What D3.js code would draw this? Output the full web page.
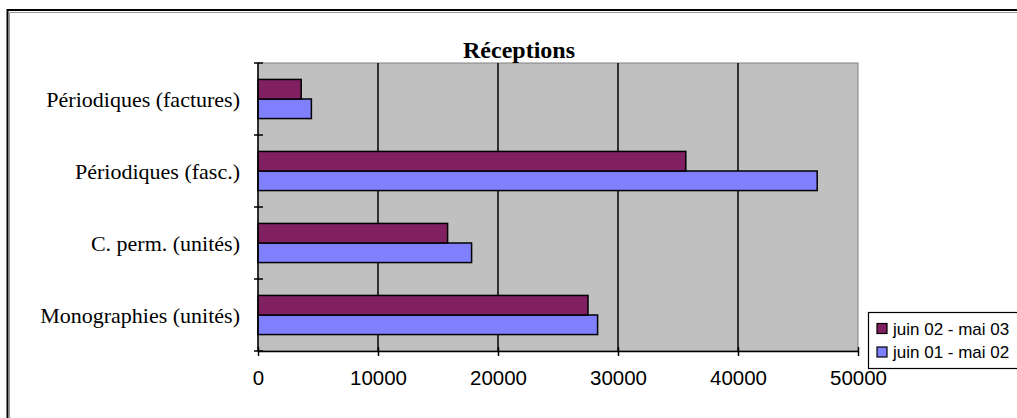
<!DOCTYPE html>
<html><head><meta charset="utf-8">
<script src="https://cdn.jsdelivr.net/npm/d3@7"></script>
<style>html,body{margin:0;padding:0;background:#fff;}svg{display:block;}</style>
</head><body>
<svg id="c" width="1017" height="418"></svg>
<script>
const categories = ["Monographies (unités)", "C. perm. (unités)", "Périodiques (fasc.)", "Périodiques (factures)"];
const seriesNames = ["juin 01 - mai 02", "juin 02 - mai 03"];
const values0102 = [28300, 17800, 46600, 4450];
const values0203 = [27500, 15800, 35650, 3600];
const xTicks = [0, 10000, 20000, 30000, 40000, 50000];
const title = "Réceptions";
const colors = {"juin 01 - mai 02": "#8080FF", "juin 02 - mai 03": "#802060"};

const svg = d3.select("#c");
const plot = {left: 258, right: 858, top: 63, bottom: 351};

// chart border
svg.append("rect").attr("x", 7.5).attr("y", 10).attr("width", 1040).attr("height", 440)
  .attr("fill", "#fff").attr("stroke", "#000").attr("stroke-width", 2);
svg.append("path").attr("d", "M9.5,1000V12.5H1100").attr("fill","none").attr("stroke","#999").attr("stroke-width",1);

const x = d3.scaleLinear().domain([0, 50000]).range([plot.left, plot.right]);
const y0 = d3.scaleBand().domain(categories).range([plot.bottom, plot.top]).padding(0);
const order = ["juin 02 - mai 03", "juin 01 - mai 02"];
const bw = y0.bandwidth();
const y1 = d3.scaleBand().domain(order).range([0, bw]).paddingInner(0).paddingOuter(0.84);

// plot bg
svg.append("rect").attr("x", plot.left).attr("y", plot.top)
  .attr("width", plot.right - plot.left).attr("height", plot.bottom - plot.top)
  .attr("fill", "#C0C0C0").attr("stroke", "#808080").attr("stroke-width", 1);

// gridlines
svg.append("g").selectAll("line").data(xTicks.filter(d => d > 0 && d < 50000)).join("line")
  .attr("x1", d => x(d)).attr("x2", d => x(d))
  .attr("y1", plot.top).attr("y2", plot.bottom)
  .attr("stroke", "#000").attr("stroke-width", 1.5);

// bars
const data = [];
categories.forEach((c, i) => {
  data.push({cat: c, s: "juin 01 - mai 02", v: values0102[i]});
  data.push({cat: c, s: "juin 02 - mai 03", v: values0203[i]});
});
svg.append("g").selectAll("rect").data(data).join("rect")
  .attr("x", x(0))
  .attr("y", d => y0(d.cat) + y1(d.s))
  .attr("width", d => x(d.v) - x(0))
  .attr("height", y1.bandwidth())
  .attr("fill", d => colors[d.s])
  .attr("stroke", "#000").attr("stroke-width", 1.5);

// x axis
const xAxis = d3.axisBottom(x).tickValues(xTicks).tickSize(5).tickSizeOuter(0).tickPadding(14).tickFormat(d3.format("d"));
const gx = svg.append("g").attr("transform", `translate(0,${plot.bottom})`).call(xAxis);
gx.select(".domain").attr("stroke", "#000").attr("stroke-width", 1.5);
gx.selectAll(".tick line").attr("stroke", "#000").attr("stroke-width", 1.5).attr("y1", -4);
gx.selectAll("text").attr("font-family", "Liberation Sans, Arial, sans-serif").attr("font-size", 20.5).attr("fill", "#000");

// y axis
const boundaries = categories.map(c => y0(c)).concat([plot.bottom]);
const gy = svg.append("g");
gy.append("line").attr("x1", plot.left).attr("x2", plot.left).attr("y1", plot.top).attr("y2", plot.bottom)
  .attr("stroke", "#000").attr("stroke-width", 1.5);
gy.selectAll("line.t").data(boundaries).join("line").attr("class", "t")
  .attr("x1", plot.left - 4).attr("x2", plot.left + 5)
  .attr("y1", d => d).attr("y2", d => d)
  .attr("stroke", "#000").attr("stroke-width", 1.5);
gy.selectAll("text").data(categories).join("text")
  .attr("x", 240).attr("y", d => y0(d) + bw / 2)
  .attr("dy", "0.35em").attr("text-anchor", "end")
  .attr("font-family", "Liberation Serif, Times New Roman, serif").attr("font-size", 22)
  .attr("fill", "#000").text(d => d);

// title
svg.append("text").attr("x", 519).attr("y", 58).attr("text-anchor", "middle")
  .attr("font-family", "Liberation Serif, Times New Roman, serif").attr("font-weight", "bold")
  .attr("font-size", 24).attr("fill", "#000").text(title);

// legend
const lg = svg.append("g");
lg.append("rect").attr("x", 868.5).attr("y", 312.5).attr("width", 200).attr("height", 56)
  .attr("fill", "#fff").attr("stroke", "#000").attr("stroke-width", 1.2);
const ly = d3.scalePoint().domain(order).range([328.5, 352]);
order.forEach(s => {
  lg.append("rect").attr("x", 877).attr("y", ly(s) - 5).attr("width", 10).attr("height", 10)
    .attr("fill", colors[s]).attr("stroke", "#000").attr("stroke-width", 1.2);
  lg.append("text").attr("x", 893).attr("y", ly(s)).attr("dy", "0.36em")
    .attr("font-family", "Liberation Sans, Arial, sans-serif").attr("font-size", 17)
    .attr("fill", "#000").text(s);
});
</script>
</body></html>
